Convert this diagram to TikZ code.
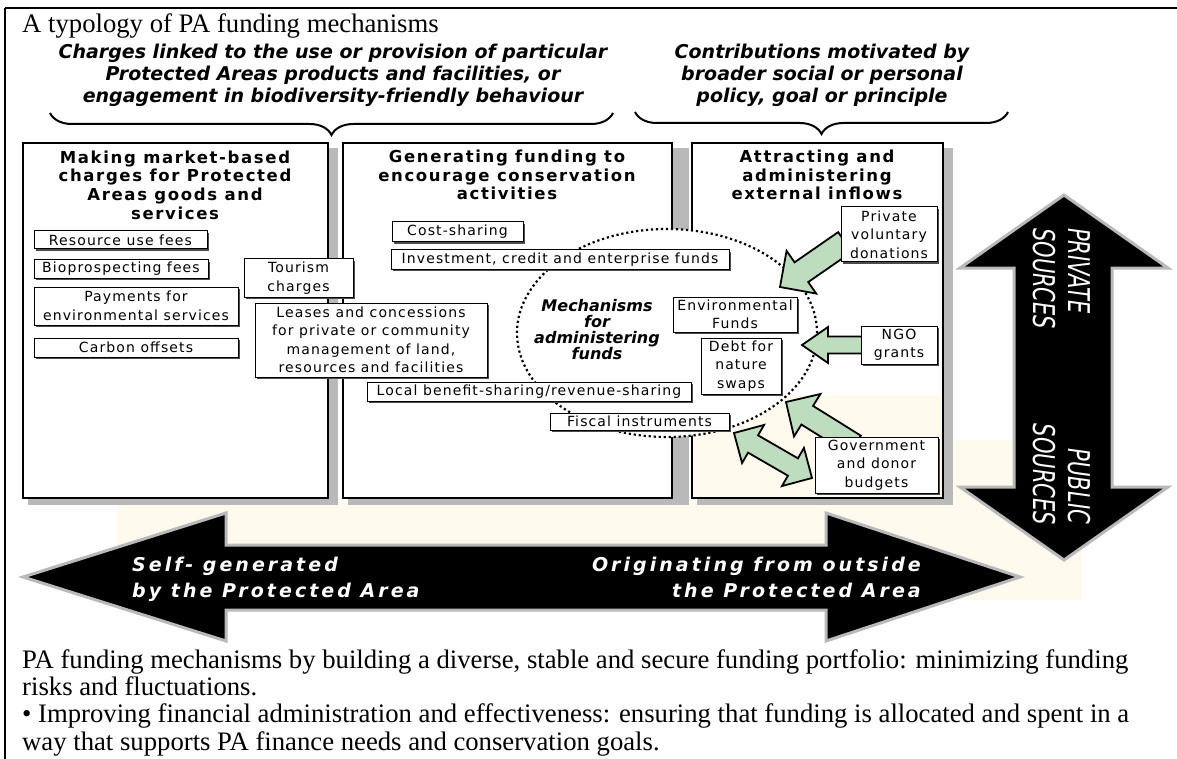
\documentclass[tikz,border=0pt]{standalone}
\usepackage{fontspec}
\setmainfont{Liberation Serif}
\newfontfamily\dvs{DejaVu Sans}
\newfontfamily\dvsT[LetterSpace=8]{DejaVu Sans}
\newfontfamily\dvsH[LetterSpace=10]{DejaVu Sans}
\newfontfamily\dvsA[LetterSpace=16]{DejaVu Sans}
\usetikzlibrary{calc,shadows,shapes.geometric,decorations.pathreplacing}
\definecolor{creamc}{RGB}{255,249,238}
\definecolor{garrow}{RGB}{190,220,190}
\newcommand\garrow[5]{%
  \coordinate (gb) at ($(#2)!#5!(#1)$);
  \filldraw[greenarrow] ($(#1)!#3!90:(#2)$) -- ($(gb)!#3!-90:(#1)$) -- ($(gb)!#4!-90:(#1)$) -- (#2) -- ($(gb)!#4!90:(#1)$) -- ($(gb)!#3!90:(#1)$) -- ($(#1)!#3!-90:(#2)$) -- cycle;}
\newcommand\gdarrow[5]{%
  \coordinate (ga) at ($(#1)!#5!(#2)$);
  \coordinate (gb) at ($(#2)!#5!(#1)$);
  \filldraw[greenarrow] (#1) -- ($(ga)!#4!90:(#2)$) -- ($(ga)!#3!90:(#2)$) -- ($(gb)!#3!-90:(#1)$) -- ($(gb)!#4!-90:(#1)$) -- (#2) -- ($(gb)!#4!90:(#1)$) -- ($(gb)!#3!90:(#1)$) -- ($(ga)!#3!-90:(#2)$) -- ($(ga)!#4!-90:(#2)$) -- cycle;}
\tikzset{
  colbox/.style={draw, line width=1.2pt, fill=white, inner sep=0pt},
  colshade/.style={fill=gray!55},
  itembox/.style={draw, line width=1pt, fill=white, inner sep=0pt, align=center,
    font=\dvsT\fontsize{14}{18.5}\selectfont,
    drop shadow={shadow xshift=2pt, shadow yshift=-2pt, opacity=1, fill=black!70}},
  colhead/.style={align=center, inner sep=0pt, font=\dvsH\bfseries\fontsize{16.5}{18.7}\selectfont},
  tophead/.style={align=center, inner sep=0pt, font=\dvs\bfseries\itshape\fontsize{19}{22}\selectfont},
  whitetxt/.style={text=white, inner sep=0pt, font=\dvsA\bfseries\itshape\fontsize{19}{19}\selectfont},
  vtxt/.style={text=white, inner sep=0pt, rotate=-90, xscale=0.7, font=\dvs\itshape\fontsize{30}{30}\selectfont},
  serif/.style={inner sep=0pt, font=\fontsize{26.7}{26.7}\selectfont},
  greenarrow/.style={fill=garrow, draw=black, line width=1.8pt, line join=miter},
  bigarrow/.style={fill=black, draw=gray!55, line width=3pt, line join=miter},
  topbrace/.style={decorate, decoration={brace, amplitude=22pt}, line width=2pt},
  mechdots/.style={line width=2.2pt, dash pattern=on 2.2pt off 2.8pt}
}
\begin{document}
\begin{tikzpicture}[x=1pt,y=-1pt]
\useasboundingbox (0,0) rectangle (1177,759);
\begin{scope}
\clip (0,0) rectangle (1177,759);
\fill[white] (0,0) rectangle (1177,759);
% faint cream background
\fill[creamc] (117,503) rectangle (1082,600);
\fill[creamc] (943,440) rectangle (1082,503);
% column shadows
\fill[colshade] (328,148) rectangle (338,505);
\fill[colshade] (28,498) rectangle (338,505);
\fill[colshade] (672,148) rectangle (689,505);
\fill[colshade] (348,498) rectangle (689,505);
\fill[colshade] (943,148) rectangle (953,505);
\fill[colshade] (697,498) rectangle (953,505);
% column boxes
\node[colbox, minimum width=305pt, minimum height=355pt] (col1) at (175.5,320.5) {};
\node[colbox, minimum width=329pt, minimum height=355pt] (col2) at (507.5,320.5) {};
\node[colbox, minimum width=251pt, minimum height=355pt] (col3) at (817.5,320.5) {};
\fill[creamc] (693.5,395) rectangle (942,497);
% column headers
\node[colhead] (h1) at (175,185) {Making market-based\\charges for Protected\\Areas goods and\\services};
\node[colhead] (h2) at (507,175) {Generating funding to\\encourage conservation\\activities};
\node[colhead] (h3) at (817,175) {Attracting and\\administering\\external inflows};
% mechanisms ellipse
\node[ellipse, draw, fill=white, mechdots, minimum width=300pt, minimum height=208pt, inner sep=0pt] (circ) at (667,333) {};
% green arrows
\coordinate (a1s) at (845,242); \coordinate (a1t) at (780,287);
\garrow{a1s}{a1t}{12pt}{26pt}{26pt}
\coordinate (a2s) at (865,345); \coordinate (a2t) at (802,345);
\garrow{a2s}{a2t}{8.5pt}{18pt}{26pt}
\coordinate (a3s) at (855,445); \coordinate (a3t) at (786,402);
\garrow{a3s}{a3t}{11pt}{25pt}{25pt}
\coordinate (a4a) at (734,433); \coordinate (a4b) at (812,478);
\gdarrow{a4a}{a4b}{10pt}{22pt}{22pt}
% item boxes, column 1
\node[itembox, minimum width=173pt, minimum height=18pt] (res) at (120.5,240) {Resource use fees};
\node[itembox, minimum width=174pt, minimum height=18pt] (bio) at (121,269) {Bioprospecting fees};
\node[itembox, minimum width=204pt, minimum height=38pt] (pay) at (136,306) {Payments for\\environmental services};
\node[itembox, minimum width=204pt, minimum height=19pt] (carb) at (136,347.5) {Carbon offsets};
\node[itembox, minimum width=109pt, minimum height=38pt] (tour) at (298.5,278) {Tourism\\charges};
\node[itembox, minimum width=232pt, minimum height=74pt] (lease) at (371,340) {Leases and concessions\\for private or community\\management of land,\\resources and facilities};
% column 2
\node[itembox, minimum width=131pt, minimum height=20pt] (cost) at (457.5,232) {Cost-sharing};
\node[itembox, minimum width=338pt, minimum height=19pt] (inv) at (560,259.5) {Investment, credit and enterprise funds};
\node[itembox, minimum width=324pt, minimum height=19pt] (local) at (529,391.5) {Local benefit-sharing/revenue-sharing};
\node[itembox, minimum width=179pt, minimum height=17pt] (fisc) at (639.5,421.5) {Fiscal instruments};
% column 3
\node[itembox, minimum width=124pt, minimum height=35pt] (env) at (735,314.5) {Environmental\\Funds};
\node[itembox, minimum width=80pt, minimum height=56pt] (debt) at (741,366) {Debt for\\nature\\swaps};
\node[itembox, minimum width=96pt, minimum height=55pt] (priv) at (889,234.5) {Private\\voluntary\\donations};
\node[itembox, minimum width=76pt, minimum height=38pt] (ngo) at (899,345) {NGO\\grants};
\node[itembox, minimum width=123pt, minimum height=56pt] (gov) at (876.5,465) {Government\\and donor\\budgets};
\node[align=center, inner sep=0pt, font=\dvs\bfseries\itshape\fontsize{16}{16}\selectfont] (mechtxt) at (597,330) {Mechanisms\\for\\administering\\funds};
% big horizontal arrow
\filldraw[bigarrow] (23,577) -- (226,513) -- (226,545) -- (826,545) -- (826,513) -- (1020,577) -- (826,641) -- (826,610) -- (226,610) -- (226,641) -- cycle;
\node[whitetxt, anchor=base west] (selfa) at (132,571) {Self- generated};
\node[whitetxt, anchor=base west] (selfb) at (132,597) {by the Protected Area};
\node[whitetxt, anchor=base east] (origa) at (921,571) {Originating from outside};
\node[whitetxt, anchor=base east] (origb) at (921,597) {the Protected Area};
% big vertical arrow
\filldraw[bigarrow] (1064,195) -- (1168,268) -- (1112,268) -- (1112,487) -- (1168,487) -- (1064,560) -- (960,487) -- (1014,487) -- (1014,268) -- (960,268) -- cycle;
\node[vtxt, anchor=base west] (priva) at (1068,228) {PRIVATE};
\node[vtxt, anchor=base west] (privb) at (1033,228) {SOURCES};
\node[vtxt, anchor=base east] (puba) at (1068,524) {PUBLIC};
\node[vtxt, anchor=base east] (pubb) at (1033,525) {SOURCES};
% top headers and braces
\node[tophead] (t1) at (333,75) {Charges linked to the use or provision of particular\\Protected Areas products and facilities, or\\engagement in biodiversity-friendly behaviour};
\node[tophead] (t2) at (822,75) {Contributions motivated by\\broader social or personal\\policy, goal or principle};
\draw[topbrace] (613,113) -- (50,113);
\draw[topbrace] (1008,112) -- (635,112);
% title and body text
\node[serif, anchor=base west] (title) at (22,33) {A typology of PA funding mechanisms};
\node[serif, anchor=base west] (p1) at (22,668) {PA funding mechanisms by building a diverse, stable and secure funding portfolio: minimizing funding};
\node[serif, anchor=base west] (p2) at (22,695) {risks and fluctuations.};
\node[serif, anchor=base west] (p3) at (22,722) {\textbullet{} Improving financial administration and effectiveness: ensuring that funding is allocated and spent in a};
\node[serif, anchor=base west] (p4) at (22,750) {way that supports PA finance needs and conservation goals.};
% frame lines
\draw[line width=2.5pt] (5,8) -- (1177,8);
\draw[line width=2pt] (5,8) -- (5,759);
\end{scope}
\end{tikzpicture}
\end{document}
